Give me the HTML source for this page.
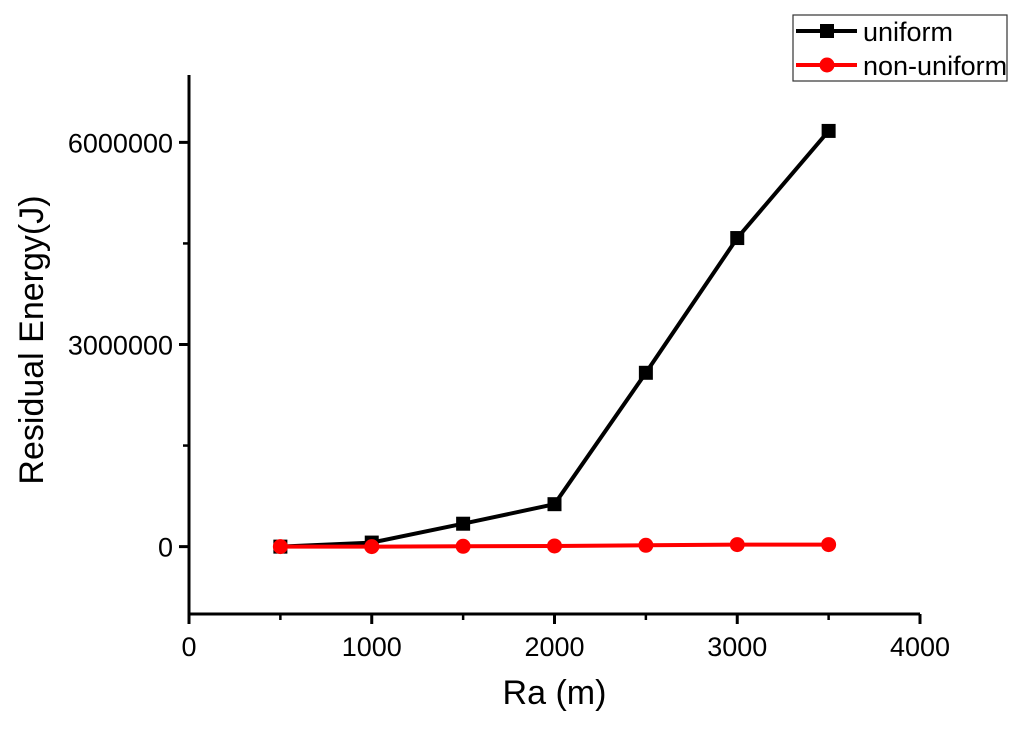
<!DOCTYPE html>
<html><head><meta charset="utf-8"><style>
html,body{margin:0;padding:0;background:#fff;}
svg{display:block;font-family:"Liberation Sans",Arial,sans-serif;}
</style></head><body>
<svg id="chart" width="1024" height="729" xmlns="http://www.w3.org/2000/svg">
<g id="axes"></g>
<g id="series"></g>
<g>
<rect x="793" y="15" width="214" height="66" fill="#fff" stroke="#333" stroke-width="1.2"/>
<g>
<line x1="796" y1="31" x2="857" y2="31" stroke="#000" stroke-width="4"/>
<rect x="820" y="24" width="14" height="14" fill="#000"/>
<text x="863" y="41" font-size="27" fill="#000">uniform</text>
</g>
<g>
<line x1="796" y1="65" x2="857" y2="65" stroke="#f00" stroke-width="4"/>
<circle cx="827" cy="65" r="7.5" fill="#f00"/>
<text x="863" y="75" font-size="27" fill="#000">non-uniform</text>
</g>
</g>
</svg>
<script>
const categories = [500, 1000, 1500, 2000, 2500, 3000, 3500];
const uniformValues = [0, 60000, 340000, 630000, 2580000, 4580000, 6170000];
const nonUniformValues = [0, 0, 5000, 10000, 20000, 30000, 30000];
const xTicks = [0, 1000, 2000, 3000, 4000];
const yTicks = [0, 3000000, 6000000];
const xTickLabels = ["0", "1000", "2000", "3000", "4000"];
const yTickLabels = ["0", "3000000", "6000000"];

const NS = "http://www.w3.org/2000/svg";
const X0 = 189, X1 = 920, Y0 = 614, Y1 = 75;
const xMin = 0, xMax = 4000, yMin = -1000000, yMax = 7000000;
function xs(v){ return X0 + (v - xMin) / (xMax - xMin) * (X1 - X0); }
function ys(v){ return Y0 - (v - yMin) / (yMax - yMin) * (Y0 - Y1); }
function mk(tag, attrs, parent){
  const e = document.createElementNS(NS, tag);
  for (const k in attrs) e.setAttribute(k, attrs[k]);
  parent.appendChild(e);
  return e;
}
const axes = document.getElementById("axes");
const series = document.getElementById("series");

const xAxis = mk("line", {x1:X0-1.5, y1:Y0, x2:X1, y2:Y0, stroke:"#000", "stroke-width":3}, axes);


const yAxis = mk("line", {x1:X0, y1:Y0, x2:X0, y2:Y1, stroke:"#000", "stroke-width":3}, axes);



xTicks.forEach((v, i) => {
  mk("line", {x1:xs(v), y1:Y0, x2:xs(v), y2:Y0+10, stroke:"#000", "stroke-width":3}, axes);
  const t = mk("text", {x:xs(v), y:Y0+42, "font-size":27, "text-anchor":"middle", fill:"#000"}, axes);
  t.textContent = xTickLabels[i];
  
  
});
for (let v = 500; v < xMax; v += 1000) {
  mk("line", {x1:xs(v), y1:Y0, x2:xs(v), y2:Y0+6, stroke:"#000", "stroke-width":2.5}, axes);
}
yTicks.forEach((v, i) => {
  mk("line", {x1:X0, y1:ys(v), x2:X0-10, y2:ys(v), stroke:"#000", "stroke-width":3}, axes);
  const t = mk("text", {x:X0-16, y:ys(v)+10, "font-size":27, "text-anchor":"end", fill:"#000"}, axes);
  t.textContent = yTickLabels[i];
  
  
});
[1500000, 4500000].forEach(v => {
  mk("line", {x1:X0, y1:ys(v), x2:X0-6, y2:ys(v), stroke:"#000", "stroke-width":2.5}, axes);
});
const xt = mk("text", {x:(X0+X1)/2, y:704, "font-size":34, "text-anchor":"middle", fill:"#000"}, axes);
xt.textContent = "Ra (m)";


const yt = mk("text", {x:0, y:0, "font-size":34, "text-anchor":"middle", fill:"#000", transform:"translate(43,340) rotate(-90)"}, axes);
yt.textContent = "Residual Energy(J)";



function drawSeries(vals, color, name, square){
  const pts = categories.map((c, i) => xs(c) + "," + ys(vals[i])).join(" ");
  const pl = mk("polyline", {points:pts, fill:"none", stroke:color, "stroke-width":4, "stroke-linejoin":"round"}, series);
  
  
  categories.forEach((c, i) => {
    let m;
    if (square) m = mk("rect", {x:xs(c)-7, y:ys(vals[i])-7, width:14, height:14, fill:color}, series);
    else m = mk("circle", {cx:xs(c), cy:ys(vals[i]), r:7.5, fill:color}, series);
    
    
  });
}
drawSeries(uniformValues, "#000", "uniform", true);
drawSeries(nonUniformValues, "#f00", "non-uniform", false);
</script>
</body></html>
